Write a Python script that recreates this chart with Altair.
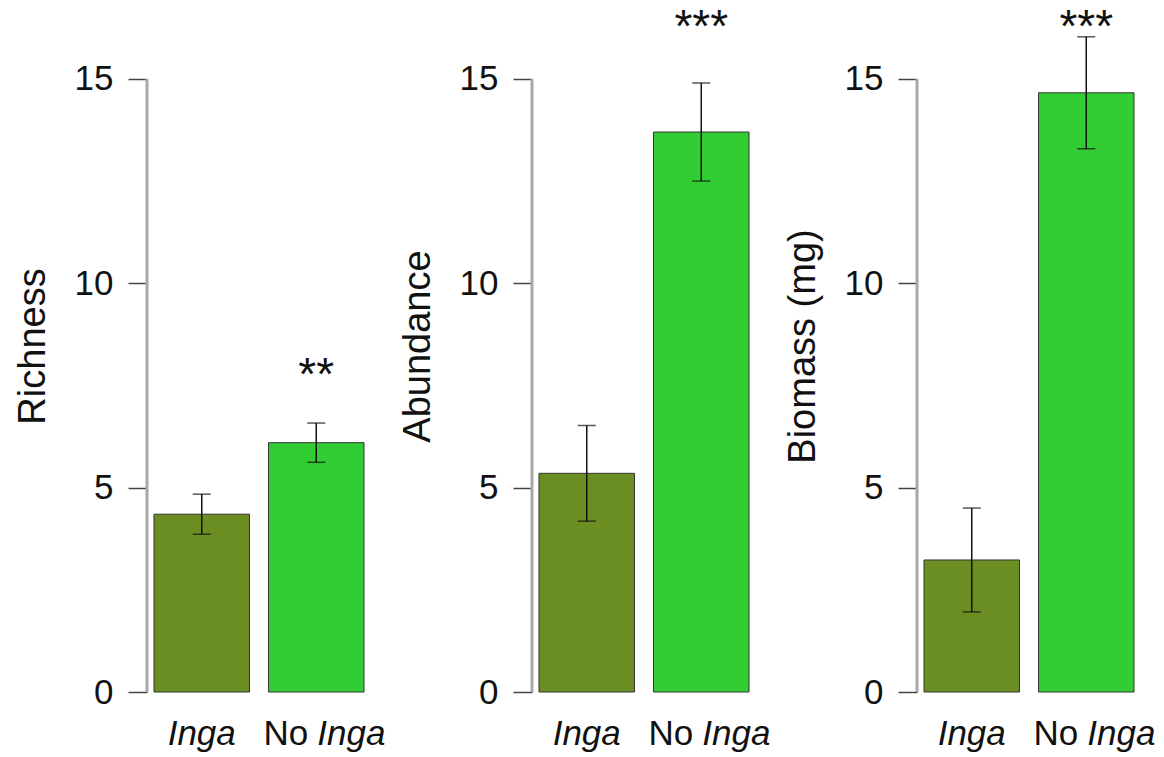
import altair as alt
import pandas as pd

# ---- data ----
groups = ["Inga", "No Inga"]
bar_colors = ["#6B8E23", "#32CD32"]

titles = ["Richness", "Abundance", "Biomass (mg)"]
means = [
    [4.35, 6.10],    # richness
    [5.35, 13.70],   # abundance
    [3.23, 14.66],   # biomass (mg)
]
ses = [
    [0.49, 0.48],
    [1.17, 1.20],
    [1.27, 1.37],
]
stars = [
    ["", "**"],
    ["", "***"],
    ["", "***"],
]
star_y = [7.4, 15.9, 15.9]
y_ticks = [0, 5, 10, 15]

FONT = "Liberation Sans"
Y_MAX = 16.93
PANEL_W = 224
PANEL_H = 692


def panel(mean, se, title, star, sy):
    df = pd.DataFrame({
        "group": groups,
        "mean": mean,
        "lo": [m - s for m, s in zip(mean, se)],
        "hi": [m + s for m, s in zip(mean, se)],
        "star": star,
        "sy": [sy, sy],
    })
    xenc = alt.X("group:N", sort=groups,
                 scale=alt.Scale(domain=groups, paddingInner=0.166, paddingOuter=0.061),
                 axis=None)
    yscale = alt.Scale(domain=[0, Y_MAX], nice=False, zero=True)
    yaxis = alt.Axis(values=y_ticks, title=title, domain=False, grid=False,
                     tickSize=19, tickWidth=1.5, tickColor="#444",
                     labelFont=FONT, labelFontSize=35, labelColor="#111", labelPadding=15,
                     titleFont=FONT, titleFontSize=38, titleFontWeight="normal",
                     titleColor="#111", titlePadding=22)

    bars = alt.Chart(df).mark_bar(stroke="#333", strokeWidth=1).encode(
        x=xenc,
        y=alt.Y("mean:Q", scale=yscale, axis=yaxis),
        color=alt.Color("group:N", scale=alt.Scale(domain=groups, range=bar_colors), legend=None),
    )
    axis_line = alt.Chart(pd.DataFrame({"a": [0], "b": [15]})).mark_rule(
        color="#a8a8a8", strokeWidth=3
    ).encode(x=alt.value(0), y=alt.Y("a:Q", scale=yscale, axis=yaxis), y2="b:Q")
    err = alt.Chart(df).mark_rule(color="#111", strokeWidth=1.5).encode(
        x=xenc, y=alt.Y("lo:Q", scale=yscale, axis=yaxis), y2="hi:Q")
    cap_lo = alt.Chart(df).mark_tick(color="#111", size=18, thickness=1.5, orient="horizontal").encode(
        x=xenc, y=alt.Y("lo:Q", scale=yscale, axis=yaxis))
    cap_hi = alt.Chart(df).mark_tick(color="#111", size=18, thickness=1.5, orient="horizontal").encode(
        x=xenc, y=alt.Y("hi:Q", scale=yscale, axis=yaxis))
    star_txt = alt.Chart(df).mark_text(font=FONT, fontSize=46, color="#111",
                                       baseline="alphabetic", align="center").encode(
        x=xenc, y=alt.Y("sy:Q", scale=yscale, axis=yaxis), text="star:N")

    lab_df = pd.DataFrame({"group": groups})
    lab_inga = alt.Chart(lab_df).transform_filter(alt.datum.group == "Inga").mark_text(
        font=FONT, fontSize=35, fontStyle="italic", color="#111", align="center",
        baseline="alphabetic").encode(x=xenc, y=alt.value(745), text=alt.value("Inga"))
    lab_no = alt.Chart(lab_df).transform_filter(alt.datum.group == "No Inga").mark_text(
        font=FONT, fontSize=35, color="#111", align="right", dx=-8,
        baseline="alphabetic").encode(x=xenc, y=alt.value(745), text=alt.value("No"))
    lab_no_inga = alt.Chart(lab_df).transform_filter(alt.datum.group == "No Inga").mark_text(
        font=FONT, fontSize=35, fontStyle="italic", color="#111", align="left", dx=1,
        baseline="alphabetic").encode(x=xenc, y=alt.value(745), text=alt.value("Inga"))

    return alt.layer(bars, axis_line, err, cap_lo, cap_hi, star_txt,
                     lab_inga, lab_no, lab_no_inga).properties(width=PANEL_W, height=PANEL_H)


panels = [panel(means[i], ses[i], titles[i], stars[i], star_y[i]) for i in range(3)]

chart = alt.hconcat(*panels, spacing=161, bounds="flush").configure(
    padding={"left": 14, "top": 0, "right": 0, "bottom": 0}
).configure_view(stroke=None).properties(background="white")

chart.save("out.html", embed_options={"renderer": "svg", "actions": False})
